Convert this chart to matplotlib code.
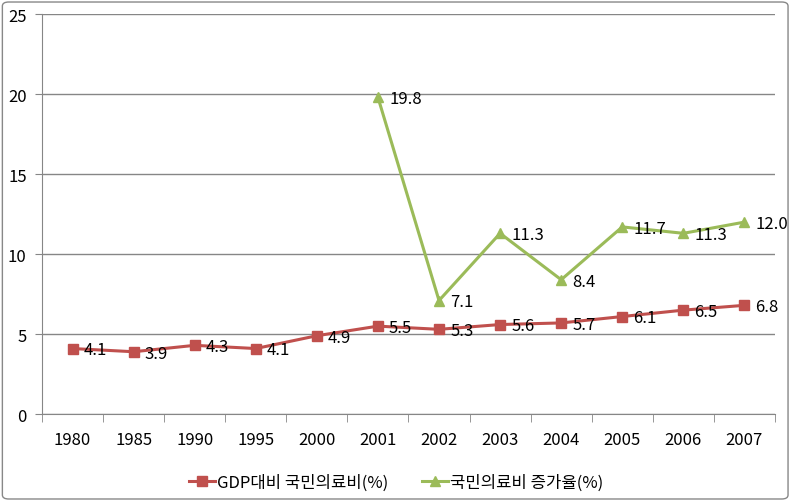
import numpy as np
import matplotlib
matplotlib.use("Agg")
import matplotlib.pyplot as plt
from matplotlib.patches import FancyBboxPatch

plt.rcParams['font.family'] = ['Noto Sans CJK KR', 'DejaVu Sans']

years = ['1980', '1985', '1990', '1995', '2000', '2001', '2002',
         '2003', '2004', '2005', '2006', '2007']
gdp_ratio = [4.1, 3.9, 4.3, 4.1, 4.9, 5.5, 5.3, 5.6, 5.7, 6.1, 6.5, 6.8]
growth = [np.nan, np.nan, np.nan, np.nan, np.nan, 19.8, 7.1,
          11.3, 8.4, 11.7, 11.3, 12.0]
series_names = ['GDP대비 국민의료비(%)', '국민의료비 증가율(%)']

red = '#C0504D'
green = '#9BBB59'
grid_col = '#868686'

fig = plt.figure(figsize=(7.92, 5.02), dpi=100)
ax = fig.add_axes([0.053, 0.173, 0.9255, 0.797])

x = np.arange(len(years))
ax.plot(x, gdp_ratio, color=red, lw=2.2, marker='s', ms=6.5,
        label=series_names[0])
ax.plot(x, growth, color=green, lw=2.2, marker='^', ms=7,
        label=series_names[1])

for xi, v in zip(x, gdp_ratio):
    ax.annotate(f'{v:.1f}', (xi, v), xytext=(8, -1), textcoords='offset points',
                ha='left', va='center', fontsize=12)
for xi, v in zip(x, growth):
    if not np.isnan(v):
        ax.annotate(f'{v:.1f}', (xi, v), xytext=(8, -1), textcoords='offset points',
                    ha='left', va='center', fontsize=12)

ax.set_xlim(-0.5, len(years) - 0.5)
ax.set_ylim(0, 25)
ax.set_yticks(range(0, 26, 5))
ax.set_xticks(x)
ax.set_xticklabels(years)
ax.set_xticks(np.arange(-0.5, len(years)), minor=True)
ax.tick_params(axis='x', which='major', length=0, pad=12, labelsize=12)
ax.tick_params(axis='x', which='minor', length=6, color=grid_col, direction='out')
ax.tick_params(axis='y', length=5, color=grid_col, labelsize=12, pad=6)

ax.grid(axis='y', color=grid_col, lw=1)
ax.set_axisbelow(True)
for s in ['top', 'right']:
    ax.spines[s].set_visible(False)
for s in ['left', 'bottom']:
    ax.spines[s].set_color(grid_col)

ax.legend(loc='lower center', bbox_to_anchor=(0.483, -0.23), ncol=2,
          frameon=False, fontsize=12, handlelength=1.6, columnspacing=2.0,
          handletextpad=0.1)

border = FancyBboxPatch((0.003, 0.004), 0.992, 0.99, transform=fig.transFigure,
                        boxstyle='round,pad=0,rounding_size=0.008',
                        fill=False, ec='#888888', lw=1)
fig.patches.append(border)

fig.savefig('out.png', dpi=100)
